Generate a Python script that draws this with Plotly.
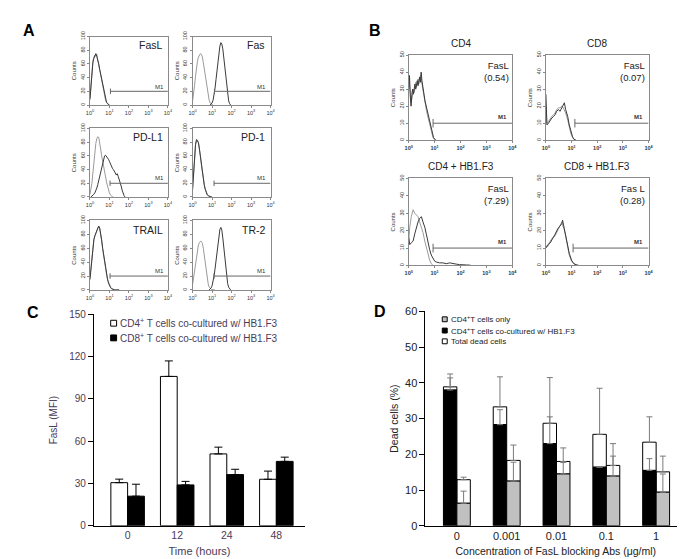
import numpy as np
import plotly.graph_objects as go

W, H = 685, 559
FONT = "Liberation Sans, Arial, sans-serif"
PURPLE = "#4a3c58"

# ---------------- Panel A : flow histograms (log10 fluorescence, counts) ----------------
fasl_log = [0, 0.05, 0.1, 0.15, 0.2, 0.25, 0.3, 0.35, 0.4, 0.45, 0.5, 0.55, 0.6, 0.65, 0.7, 0.75, 0.8, 0.85, 0.9, 0.95, 1.0]
fasl_iso = [10, 33, 55, 64, 70, 73, 71, 74, 66, 58, 50, 44, 36, 28, 20, 13, 7, 4, 2, 0.5, 0]
fasl_ab = [8, 30, 52, 62, 68, 72, 75, 71, 67, 60, 52, 45, 37, 29, 21, 14, 8, 4, 2, 1, 0]

fas_iso_log = [0, 0.05, 0.1, 0.15, 0.2, 0.25, 0.3, 0.35, 0.4, 0.45, 0.5, 0.55, 0.6, 0.65, 0.7, 0.75, 0.8, 0.85, 0.9, 0.95, 1.0, 1.05]
fas_iso = [6, 15, 28, 42, 55, 64, 70, 73, 75, 74, 70, 62, 52, 41, 30, 20, 12, 7, 3, 1, 0.5, 0]
fas_ab_log = [0.9, 0.95, 1.0, 1.05, 1.1, 1.15, 1.2, 1.25, 1.3, 1.35, 1.4, 1.45, 1.5, 1.55, 1.6, 1.65, 1.7, 1.75, 1.8, 1.85, 1.9, 1.95]
fas_ab = [0, 1, 3, 7, 14, 24, 37, 52, 66, 78, 86, 91, 89, 82, 70, 55, 40, 26, 14, 6, 2, 0]

pdl1_iso_log = [0, 0.05, 0.1, 0.15, 0.2, 0.25, 0.3, 0.35, 0.4, 0.45, 0.5, 0.55, 0.6, 0.65, 0.7, 0.75, 0.8, 0.85, 0.9, 0.95, 1.0, 1.05, 1.1, 1.15, 1.2]
pdl1_iso = [4, 10, 20, 35, 52, 68, 78, 85, 88, 87, 80, 70, 60, 51, 43, 36, 29, 22, 16, 10, 6, 3, 1, 0.5, 0]
pdl1_ab_log = [0.05, 0.1, 0.15, 0.2, 0.25, 0.3, 0.35, 0.4, 0.45, 0.5, 0.55, 0.6, 0.65, 0.7, 0.75, 0.8, 0.85, 0.9,
               0.95, 1.0, 1.05, 1.1, 1.15, 1.2, 1.25, 1.3, 1.35, 1.4, 1.45, 1.5, 1.55, 1.6, 1.65, 1.7, 1.75, 1.8]
pdl1_ab = [0, 1, 2, 4, 6, 9, 13, 18, 24, 31, 38, 45, 52, 57, 60, 61, 59, 58, 55, 52, 48, 45, 42, 40, 38, 35, 32, 34,
           30, 26, 22, 16, 10, 5, 2, 0]

pd1_log = [0, 0.05, 0.1, 0.15, 0.2, 0.25, 0.3, 0.35, 0.4, 0.45, 0.5, 0.55, 0.6, 0.65, 0.7, 0.75, 0.8, 0.85, 0.9, 0.95, 1.0]
pd1_iso = [10, 35, 60, 75, 82, 83, 80, 72, 60, 48, 36, 26, 18, 12, 7, 4, 2, 1, 0.5, 0, 0]
pd1_ab = [12, 38, 62, 77, 84, 81, 79, 70, 58, 46, 35, 25, 17, 11, 6, 3, 2, 1, 0.3, 0, 0]

trail_log = [0, 0.05, 0.1, 0.15, 0.2, 0.25, 0.3, 0.35, 0.4, 0.45, 0.5, 0.55, 0.6, 0.65, 0.7, 0.75, 0.8, 0.85, 0.9,
             0.95, 1.0, 1.05, 1.1, 1.15, 1.2, 1.25, 1.3, 1.35, 1.4, 1.45, 1.5]
trail_iso = [18, 34, 52, 65, 73, 77, 80, 85, 89, 91, 88, 81, 71, 60, 49, 39, 30, 22, 15, 10, 6, 4, 2, 1, 0.5, 0, 0, 0, 0, 0, 0]
trail_ab = [15, 32, 50, 64, 72, 78, 81, 84, 88, 92, 89, 82, 72, 60, 50, 40, 31, 23, 16, 10, 6, 4, 2, 1, 0.5, 0.3, 0, 0, 0, 0, 0]

tr2_iso_log = [0, 0.05, 0.1, 0.15, 0.2, 0.25, 0.3, 0.35, 0.4, 0.45, 0.5, 0.55, 0.6, 0.65, 0.7, 0.75, 0.8, 0.85, 0.9,
               0.95, 1.0, 1.05, 1.1, 1.15]
tr2_iso = [8, 18, 30, 42, 52, 60, 65, 68, 70, 70, 67, 60, 50, 38, 26, 16, 9, 4, 2, 1, 0.5, 0, 0, 0]
tr2_ab_log = [0.85, 0.9, 0.95, 1.0, 1.05, 1.1, 1.15, 1.2, 1.25, 1.3, 1.35, 1.4, 1.45, 1.5, 1.55, 1.6, 1.65, 1.7,
              1.75, 1.8, 1.85, 1.9, 1.95]
tr2_ab = [0, 1, 3, 6, 12, 20, 30, 42, 55, 68, 80, 87, 90, 86, 75, 60, 44, 30, 18, 9, 4, 1, 0]

A_titles = ["FasL", "Fas", "PD-L1", "PD-1", "TRAIL", "TR-2"]
A_gate_start = [1.05, 1.12, 1.03, 1.1, 1.03, 1.1]
A_gate_level = 20

# ---------------- Panel B : FasL histograms of T cells ----------------
cd4_log = [0, 0.03, 0.06, 0.09, 0.12, 0.15, 0.18, 0.21, 0.24, 0.27, 0.3, 0.33, 0.36, 0.39, 0.42, 0.45, 0.48, 0.51,
           0.54, 0.57, 0.6, 0.63, 0.66, 0.69, 0.72, 0.75, 0.78, 0.81, 0.84, 0.87, 0.9, 0.93, 0.96, 0.99, 1.02, 1.05]
cd4_dark = [30, 38, 26, 20, 27, 30, 27, 31, 33, 30, 33, 35, 32, 36, 37, 34, 40, 35, 31, 29, 26, 23, 21, 19, 17, 15,
            13, 11, 9, 6, 4, 2.5, 1.5, 0.8, 0.3, 0]
cd4_light = [35, 33, 28, 22, 24, 28, 30, 28, 32, 34, 31, 34, 36, 33, 35, 38, 36, 33, 30, 27, 24, 22, 19, 17, 15, 13,
             11, 9, 7, 5, 3, 2, 1, 0.5, 0.2, 0]

cd8_log = [0, 0.015, 0.04, 0.1, 0.17, 0.23, 0.3, 0.36, 0.42, 0.49, 0.55, 0.62, 0.68, 0.72, 0.77, 0.85, 0.91, 0.97,
           1.04, 1.1, 1.17]
cd8_dark = [27, 12, 9, 10, 12, 13, 14, 15, 17, 18, 17, 19, 21, 22, 18, 14, 9, 5, 2, 0.5, 0]
cd8_light = [20, 14, 10, 11, 13, 14, 15, 16, 18, 19, 19, 20, 19, 18, 16, 12, 8, 4, 1.5, 0.5, 0]

cd4hb_light_log = [0, 0.04, 0.1, 0.17, 0.23, 0.29, 0.36, 0.42, 0.49, 0.55, 0.62, 0.68, 0.74, 0.81, 0.87, 0.94]
cd4hb_light = [14, 22, 28, 32, 30, 29, 28, 25, 22, 19, 14, 10, 6, 3, 1, 0]
cd4hb_dark_log = [0, 0.04, 0.1, 0.17, 0.23, 0.29, 0.36, 0.42, 0.49, 0.55, 0.62, 0.68, 0.74, 0.81, 0.87, 0.94, 1.0,
                  1.06, 1.19, 1.32, 1.45, 1.58, 1.71, 1.83, 1.96, 2.09, 2.22, 2.35, 2.41]
cd4hb_dark = [16, 12, 13, 14, 18, 22, 25, 27, 28, 25, 22, 18, 13, 9, 6, 4, 2.5, 2, 1.5, 1.5, 1, 1.5, 1, 0.8, 0.5,
              0.6, 0.3, 0.2, 0]

cd8hb_log = [0, 0.08, 0.17, 0.26, 0.36, 0.46, 0.55, 0.62, 0.65, 0.71, 0.77, 0.85, 0.91, 1.0, 1.09, 1.19, 1.28]
cd8hb_dark = [10, 12, 13, 15, 18, 21, 23, 24, 26, 22, 18, 12, 7, 3, 1, 0.4, 0]
cd8hb_light = [11, 11, 14, 16, 17, 20, 22, 25, 23, 21, 17, 11, 6, 2.5, 1, 0.3, 0]

B_titles = ["CD4", "CD8", "CD4 + HB1.F3", "CD8 + HB1.F3"]
B_marker = ["FasL", "FasL", "FasL", "Fas L"]
B_percent = ["(0.54)", "(0.07)", "(7.29)", "(0.28)"]
B_gate_start = [0.94, 1.13, 0.94, 1.06]
B_gate_level = 10

# ---------------- Panel C ----------------
C_times = ["0", "12", "24", "48"]
C_cd4 = [30.6, 106.0, 51.0, 33.0]
C_cd4_err = [2.5, 11.0, 4.8, 5.8]
C_cd8 = [21.0, 29.0, 36.3, 45.7]
C_cd8_err = [8.5, 2.5, 3.8, 3.0]

# ---------------- Panel D ----------------
D_conc = ["0", "0.001", "0.01", "0.1", "1"]
D_cocult = [38.0, 28.3, 23.0, 16.4, 15.5]
D_cocult_err = [3.4, 4.2, 7.5, 0.0, 3.3]
D_total_left = [38.9, 33.3, 28.7, 25.6, 23.4]
D_total_left_err = [3.6, 8.4, 12.8, 12.9, 7.1]
D_only = [6.3, 12.5, 14.5, 13.9, 9.4]
D_only_err = [3.4, 5.3, 3.2, 5.6, 5.1]
D_total_right = [12.9, 18.3, 18.0, 16.9, 15.1]
D_total_right_err = [0.7, 4.3, 3.8, 6.1, 4.4]


def xdom(x0, x1):
    return [x0 / W, x1 / W]


def ydom(y0, y1):
    return [1 - y1 / H, 1 - y0 / H]


fig = go.Figure()
layout = dict(width=W, height=H, margin=dict(l=0, r=0, t=0, b=0), paper_bgcolor="white",
              plot_bgcolor="white", showlegend=False, font=dict(family=FONT, color="#222"),
              barmode="overlay")
annotations = []
shapes = []

DARK = "#3a3a3a"
LIGHT = "#9a9a9a"
TICK_FS = 5.5


def hist_axes(n, xd, yd, ymax, ystep, bold=False):
    sfx = "" if n == 1 else str(n)
    tt = [("<b>10<sup>%d</sup></b>" if bold else "10<sup>%d</sup>") % i for i in range(5)]
    layout["xaxis" + sfx] = dict(domain=xd, anchor="y" + sfx, type="log", range=[0, 4],
                                 tickvals=[1, 10, 100, 1000, 10000], ticktext=tt,
                                 tickfont=dict(size=TICK_FS, color="#333"), ticks="outside", ticklen=2,
                                 tickcolor="#888", showline=True, linecolor="#8a8a8a", linewidth=1,
                                 mirror=True, showgrid=False, zeroline=False, fixedrange=True)
    layout["yaxis" + sfx] = dict(domain=yd, anchor="x" + sfx, range=[0, ymax],
                                 tickvals=list(range(0, ymax + 1, ystep)), tickangle=-90,
                                 tickfont=dict(size=TICK_FS, color="#333"), ticks="outside", ticklen=2,
                                 tickcolor="#888", showline=True, linecolor="#8a8a8a", linewidth=1,
                                 mirror=True, showgrid=False, zeroline=False, fixedrange=True,
                                 title=dict(text="Counts", font=dict(size=6, color="#333"), standoff=2))
    return "x" + sfx, "y" + sfx


def curve(xa, ya, logs, counts, color, width=1):
    fig.add_trace(go.Scatter(x=10 ** np.array(logs, dtype=float), y=counts, mode="lines",
                             line=dict(color=color, width=width), xaxis=xa, yaxis=ya,
                             hoverinfo="skip"))


def gate(xa, ya, start, level, tick):
    gx = [10 ** start, 10 ** 4, None, 10 ** start, 10 ** start]
    gy = [level, level, None, level - tick, level + tick]
    fig.add_trace(go.Scatter(x=gx, y=gy, mode="lines", line=dict(color="#666", width=1),
                             xaxis=xa, yaxis=ya, hoverinfo="skip", cliponaxis=False))


# ---- Panel A ----
A_cols = [(79, 158), (183, 262)]
A_rows = [(23, 93), (117, 187), (211, 282)]
A_curves = [
    [(fasl_log, fasl_iso), (fasl_log, fasl_ab)],
    [(fas_iso_log, fas_iso), (fas_ab_log, fas_ab)],
    [(pdl1_iso_log, pdl1_iso), (pdl1_ab_log, pdl1_ab)],
    [(pd1_log, pd1_iso), (pd1_log, pd1_ab)],
    [(trail_log, trail_iso), (trail_log, trail_ab)],
    [(tr2_iso_log, tr2_iso), (tr2_ab_log, tr2_ab)],
]
for k in range(6):
    r, c = divmod(k, 2)
    n = k + 1
    xa, ya = hist_axes(n, xdom(*A_cols[c]), ydom(*A_rows[r]), 100, 20)
    (l1, c1), (l2, c2) = A_curves[k]
    curve(xa, ya, l1, c1, LIGHT)
    curve(xa, ya, l2, c2, DARK)
    gate(xa, ya, A_gate_start[k], A_gate_level, 4)
    annotations.append(dict(text=A_titles[k], xref=xa + " domain", yref=ya + " domain", x=0.96, y=0.87,
                            xanchor="right", yanchor="middle", showarrow=False,
                            font=dict(size=10.5, color="#222")))
    annotations.append(dict(text="M1", xref=xa + " domain", yref=ya + " domain", x=0.97, y=0.27,
                            xanchor="right", yanchor="middle", showarrow=False,
                            font=dict(size=6, color="#333")))

# ---- Panel B ----
B_cols = [(402, 507), (541, 645)]
B_rows = [(42, 129), (168, 257)]
B_curves = [
    [(cd4_log, cd4_light), (cd4_log, cd4_dark)],
    [(cd8_log, cd8_light), (cd8_log, cd8_dark)],
    [(cd4hb_light_log, cd4hb_light), (cd4hb_dark_log, cd4hb_dark)],
    [(cd8hb_log, cd8hb_light), (cd8hb_log, cd8hb_dark)],
]
for k in range(4):
    r, c = divmod(k, 2)
    n = k + 7
    xa, ya = hist_axes(n, xdom(*B_cols[c]), ydom(*B_rows[r]), 50, 10, bold=True)
    (l1, c1), (l2, c2) = B_curves[k]
    curve(xa, ya, l1, c1, LIGHT)
    curve(xa, ya, l2, c2, DARK)
    gate(xa, ya, B_gate_start[k], B_gate_level, 2.5)
    annotations.append(dict(text=B_titles[k], xref=xa + " domain", yref=ya + " domain", x=0.5, y=1,
                            xanchor="center", yanchor="bottom", yshift=4, showarrow=False,
                            font=dict(size=10, color="#222")))
    annotations.append(dict(text=B_marker[k] + "<br>" + B_percent[k], xref=xa + " domain",
                            yref=ya + " domain", x=0.99, y=0.97, xanchor="right", yanchor="top",
                            align="right", showarrow=False, font=dict(size=9.5, color="#222")))
    annotations.append(dict(text="<b>M1</b>", xref=xa + " domain", yref=ya + " domain", x=0.97, y=0.27,
                            xanchor="right", yanchor="middle", showarrow=False,
                            font=dict(size=6, color="#333")))

# ---- Panel C ----
wC = 0.338
fig.add_trace(go.Bar(x=C_times, y=C_cd4, width=wC, offset=-wC, xaxis="x11", yaxis="y11",
                     marker=dict(color="white", line=dict(color="black", width=1)),
                     error_y=dict(type="data", array=C_cd4_err, arrayminus=[0] * 4, symmetric=False,
                                  color="black", thickness=1, width=4), hoverinfo="skip"))
fig.add_trace(go.Bar(x=C_times, y=C_cd8, width=wC, offset=0, xaxis="x11", yaxis="y11",
                     marker=dict(color="black", line=dict(color="black", width=1)),
                     error_y=dict(type="data", array=C_cd8_err, arrayminus=[0] * 4, symmetric=False,
                                  color="black", thickness=1, width=4), hoverinfo="skip"))
layout["xaxis11"] = dict(domain=xdom(83, 297), anchor="y11", type="category", range=[-0.68, 3.58],
                         showline=True, linecolor="black", linewidth=1, ticks="", showgrid=False,
                         zeroline=False, tickfont=dict(size=10.5, color=PURPLE), fixedrange=True,
                         title=dict(text="Time (hours)", font=dict(size=11, color=PURPLE), standoff=6))
layout["yaxis11"] = dict(domain=ydom(307, 523), anchor="x11", range=[0, 150], tickvals=[0, 30, 60, 90, 120, 150],
                         showline=True, linecolor="black", linewidth=1, ticks="outside", ticklen=5,
                         tickcolor="black", showgrid=False, zeroline=False, fixedrange=True,
                         tickfont=dict(size=10, color=PURPLE),
                         title=dict(text="FasL (MFI)", font=dict(size=10, color=PURPLE), standoff=9))
C_leg = [("white", "CD4<sup>+</sup> T cells co-cultured w/ HB1.F3", 316),
         ("black", "CD8<sup>+</sup> T cells co-cultured w/ HB1.F3", 331)]
for col, txt, yc in C_leg:
    shapes.append(dict(type="rect", xref="paper", yref="paper", x0=100 / W, x1=106 / W,
                       y0=1 - (yc + 3) / H, y1=1 - (yc - 3) / H, fillcolor=col,
                       line=dict(color="black", width=1)))
    annotations.append(dict(text=txt, xref="paper", yref="paper", x=107.5 / W, y=1 - yc / H,
                            xanchor="left", yanchor="middle", showarrow=False,
                            font=dict(size=10, color=PURPLE)))

# ---- Panel D ----
wD = 0.27
ERR = "#7a7a7a"


def dbar(y, base, err, color, offset):
    top_err = dict(type="data", array=err, arrayminus=[0] * len(err), symmetric=False, color=ERR,
                   thickness=1, width=3)
    fig.add_trace(go.Bar(x=D_conc, y=y, base=base, width=wD, offset=offset, xaxis="x12", yaxis="y12",
                         marker=dict(color=color, line=dict(color="black", width=1)),
                         error_y=top_err, hoverinfo="skip"))


white_left = [t - b for t, b in zip(D_total_left, D_cocult)]
white_right = [t - b for t, b in zip(D_total_right, D_only)]
dbar(white_left, D_cocult, D_total_left_err, "white", -wD)
dbar(white_right, D_only, D_total_right_err, "white", 0)
dbar(D_cocult, None, D_cocult_err, "black", -wD)
dbar(D_only, None, D_only_err, "#c0c0c0", 0)

layout["xaxis12"] = dict(domain=xdom(419, 683), anchor="y12", type="category", range=[-0.63, 4.6],
                         showline=True, linecolor="black", linewidth=1, ticks="", showgrid=False,
                         zeroline=False, tickfont=dict(size=11, color="#222"), fixedrange=True,
                         title=dict(text="Concentration of FasL blocking Abs (μg/ml)",
                                    font=dict(size=10.5, color="#222"), standoff=6))
layout["yaxis12"] = dict(domain=ydom(304, 523), anchor="x12", range=[0, 60], tickvals=[0, 10, 20, 30, 40, 50, 60],
                         showline=True, linecolor="black", linewidth=1, ticks="outside", ticklen=5,
                         tickcolor="black", showgrid=False, zeroline=False, fixedrange=True,
                         tickfont=dict(size=11, color="#222"),
                         title=dict(text="Dead cells (%)", font=dict(size=10.5, color="#222"), standoff=4))
shapes.append(dict(type="line", xref="x12 domain", yref="paper", x0=1, x1=1,
                   y0=1 - 523 / H, y1=1 - 517 / H, line=dict(color="black", width=1)))
D_leg = [("#c0c0c0", "CD4<sup>+</sup>T cells only", 312),
         ("black", "CD4<sup>+</sup>T cells co-cultured w/ HB1.F3", 323.5),
         ("white", "Total dead cells", 334.5)]
for col, txt, yc in D_leg:
    shapes.append(dict(type="rect", xref="paper", yref="paper", x0=436 / W, x1=441 / W,
                       y0=1 - (yc + 2.5) / H, y1=1 - (yc - 2.5) / H, fillcolor=col,
                       line=dict(color="black", width=1)))
    annotations.append(dict(text=txt, xref="paper", yref="paper", x=443 / W, y=1 - yc / H,
                            xanchor="left", yanchor="middle", showarrow=False,
                            font=dict(size=8, color="#222")))

for letter, px_, py_ in [("A", 17, 17), ("B", 368, 17), ("C", 21, 305), ("D", 373, 304)]:
    annotations.append(dict(text="<b>%s</b>" % letter, xref="paper", yref="paper", x=px_ / W, y=1 - py_ / H,
                            xanchor="center", yanchor="middle", showarrow=False,
                            font=dict(size=16, color="black")))

layout["annotations"] = annotations
layout["shapes"] = shapes
fig.update_layout(**layout)
fig.write_html("out.html")
